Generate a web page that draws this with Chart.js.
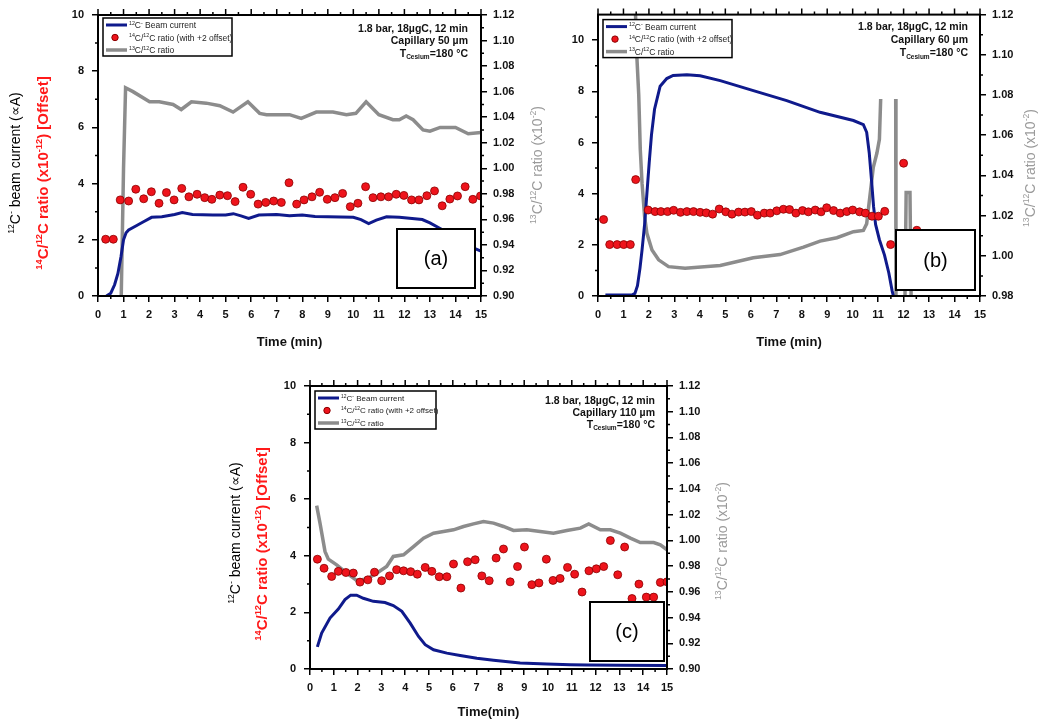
<!DOCTYPE html>
<html><head><meta charset="utf-8">
<script src="https://cdn.jsdelivr.net/npm/chart.js@4"></script>
<style>
body{margin:0;background:#fff;width:1043px;height:720px;position:relative;overflow:hidden}
.p{position:absolute}
</style></head>
<body>
<div class="p" style="left:0;top:0;width:520px;height:360px"><canvas id="ca" width="520" height="360"></canvas></div>
<div class="p" style="left:520px;top:0;width:523px;height:360px"><canvas id="cb" width="523" height="360"></canvas></div>
<div class="p" style="left:220px;top:370px;width:560px;height:350px"><canvas id="cc" width="560" height="350"></canvas></div>
<script>
// ---------- DATA ----------
const xTicks = [0,1,2,3,4,5,6,7,8,9,10,11,12,13,14,15];

// Panel (a)
const aBeamT = [0.33,0.5,0.65,0.78,0.9,1.0,1.1,1.2,1.5,1.8,2.1,2.5,3.0,3.3,3.7,4.5,5.0,5.3,5.6,5.9,6.3,7.0,7.5,8.0,8.5,9.0,10.0,10.3,10.6,10.9,11.3,11.8,12.3,12.7,13.0,13.4,13.8,14.2,14.6,15];
const aBeamV = [0,0.1,0.4,0.8,1.4,2.0,2.25,2.35,2.5,2.65,2.8,2.82,2.9,2.97,2.9,2.88,2.88,2.93,2.85,2.76,2.88,2.9,2.86,2.88,2.83,2.82,2.8,2.72,2.58,2.7,2.82,2.8,2.76,2.72,2.6,2.4,2.2,2.0,1.75,1.6];
const aGrayT = [0.91,1.0,1.08,1.37,2.02,2.4,2.94,3.26,3.66,4.24,4.77,5.29,5.87,6.33,6.6,7.5,7.96,8.55,9.2,9.73,10.1,10.5,11.0,11.55,11.8,12.07,12.34,12.73,13.0,13.4,14.0,14.5,15];
const aGrayV = [0.90,1.0,1.063,1.06,1.052,1.052,1.05,1.046,1.052,1.051,1.049,1.044,1.052,1.043,1.042,1.042,1.039,1.044,1.044,1.042,1.043,1.052,1.042,1.038,1.038,1.041,1.038,1.030,1.029,1.032,1.032,1.027,1.028];
const aDotT = [0.3,0.6,0.87,1.2,1.48,1.79,2.09,2.39,2.68,2.98,3.28,3.56,3.88,4.18,4.46,4.77,5.07,5.37,5.68,5.98,6.27,6.57,6.88,7.18,7.48,7.78,8.07,8.38,8.68,8.98,9.28,9.58,9.88,10.18,10.48,10.77,11.08,11.38,11.68,11.98,12.28,12.57,12.88,13.18,13.48,13.78,14.08,14.38,14.68,14.98];
const aDotV = [2.02,2.02,3.42,3.38,3.8,3.46,3.71,3.3,3.68,3.42,3.83,3.53,3.62,3.5,3.44,3.59,3.57,3.36,3.87,3.62,3.27,3.33,3.38,3.33,4.03,3.27,3.42,3.53,3.69,3.44,3.5,3.65,3.18,3.3,3.89,3.5,3.53,3.53,3.62,3.58,3.42,3.42,3.57,3.74,3.21,3.45,3.56,3.89,3.44,3.56];

// Panel (b)
const bBeamT = [0.29,1.33,1.45,1.55,1.65,1.73,1.83,1.92,2.01,2.1,2.22,2.44,2.7,2.95,3.49,4.01,4.8,6.1,7.41,8.72,10.03,10.42,10.55,10.65,10.75,10.82,10.9,11.05,11.25,11.42,11.55,11.6];
const bBeamV = [0.04,0.04,0.1,0.4,1.1,1.8,2.8,4.0,5.2,6.3,7.3,8.2,8.5,8.62,8.65,8.61,8.42,8.03,7.64,7.18,6.86,6.7,6.4,5.6,4.4,3.5,2.8,2.2,1.6,0.9,0.2,0];
const bGrayT = [1.46,1.53,1.6,1.66,1.73,1.83,1.92,2.12,2.38,2.77,3.42,4.8,6.1,7.15,8.07,8.72,9.38,10.03,10.42,10.55,10.68,10.81,10.95,11.05,11.1,11.11,11.69,11.7,12.05,12.1,12.25,12.3];
const bGrayV = [1.125,1.098,1.08,1.053,1.036,1.0195,1.0112,1.0029,0.998,0.9946,0.9938,0.9952,0.999,1.0006,1.0043,1.0073,1.009,1.012,1.0126,1.016,1.03,1.044,1.051,1.058,1.078,null,1.078,0.975,0.975,1.0315,1.0315,0.975];
const bDotT = [0.22,0.46,0.75,1.01,1.27,1.48,1.97,2.24,2.47,2.73,2.97,3.24,3.49,3.75,4.01,4.25,4.5,4.76,5.02,5.26,5.52,5.77,6.02,6.26,6.53,6.76,7.02,7.28,7.52,7.77,8.03,8.26,8.53,8.76,8.98,9.25,9.51,9.77,10.0,10.27,10.5,10.76,11.01,11.26,11.49,12.0,12.52];
const bDotV = [2.99,2.01,2.01,2.01,2.01,4.55,3.36,3.3,3.3,3.3,3.35,3.27,3.3,3.3,3.27,3.25,3.2,3.4,3.29,3.2,3.28,3.28,3.3,3.16,3.24,3.24,3.33,3.39,3.38,3.24,3.34,3.29,3.36,3.29,3.45,3.34,3.24,3.3,3.36,3.29,3.24,3.12,3.12,3.31,2.01,5.19,2.57];

// Panel (c)
const cBeamT = [0.31,0.49,0.84,1.19,1.47,1.71,1.96,2.24,2.66,3.15,3.5,3.86,4.21,4.56,4.84,5.19,5.75,6.31,7.01,7.71,8.83,9.95,10.94,11.64,13.04,15];
const cBeamV = [0.78,1.27,1.8,2.12,2.45,2.61,2.61,2.5,2.39,2.35,2.24,2.04,1.62,1.15,0.86,0.68,0.56,0.48,0.38,0.31,0.21,0.18,0.15,0.14,0.13,0.12];
const cGrayT = [0.28,0.42,0.63,0.77,1.12,1.54,1.96,2.38,2.8,3.22,3.5,3.93,4.35,4.77,5.19,5.61,6.03,6.45,6.87,7.29,7.71,8.13,8.55,9.11,9.67,10.23,10.79,11.36,11.71,12.2,12.62,13.04,13.46,13.88,14.44,14.72,15];
const cGrayV = [1.027,1.0134,0.9914,0.9854,0.981,0.9745,0.9688,0.9699,0.9745,0.9797,0.9875,0.9888,0.9952,1.0017,1.0056,1.0069,1.0082,1.0108,1.0128,1.0147,1.0134,1.0108,1.0077,1.0082,1.0069,1.0056,1.0077,1.0095,1.0128,1.0082,1.0082,1.0056,1.0017,0.9983,0.9983,0.9965,0.9927];
const cDotT = [0.31,0.59,0.91,1.19,1.51,1.82,2.1,2.43,2.71,3.01,3.34,3.64,3.93,4.23,4.51,4.84,5.12,5.43,5.75,6.03,6.34,6.62,6.94,7.22,7.53,7.82,8.13,8.41,8.72,9.01,9.32,9.62,9.93,10.21,10.51,10.82,11.12,11.43,11.72,12.03,12.34,12.62,12.93,13.22,13.53,13.82,14.13,14.44,14.72,15.0];
const cDotV = [3.88,3.56,3.27,3.45,3.41,3.39,3.07,3.15,3.42,3.12,3.29,3.51,3.47,3.44,3.35,3.59,3.45,3.26,3.26,3.71,2.86,3.79,3.86,3.29,3.12,3.92,4.24,3.08,3.62,4.31,2.98,3.04,3.88,3.13,3.2,3.59,3.35,2.72,3.47,3.54,3.62,4.54,3.33,4.31,2.49,3.0,2.54,2.54,3.06,3.08];

// Labels
const LBL_BEAM = '^{12}C^{-} Beam current';
const LBL_DOT = '^{14}C/^{12}C ratio (with +2 offset)';
const LBL_GRAY = '^{13}C/^{12}C ratio';
const T_BEAM = '^{12}C^{-} beam current (\u221DA)';
const T_RATIO14 = '^{14}C/^{12}C ratio (x10^{-12}) [Offset]';
const T_RATIO13 = '^{13}C/^{12}C ratio (x10^{-2})';
const NOTE_A = ['1.8 bar, 18\u00B5gC, 12 min','Capillary 50 \u00B5m','T_{Cesium}=180 \u00B0C'];
const NOTE_B = ['1.8 bar, 18\u00B5gC, 12 min','Capillary 60 \u00B5m','T_{Cesium}=180 \u00B0C'];
const NOTE_C = ['1.8 bar, 18\u00B5gC, 12 min','Capillary 110 \u00B5m','T_{Cesium}=180 \u00B0C'];

// ---------- RENDERING ----------
const FONT = '"Liberation Sans", Arial, sans-serif';
Chart.defaults.font.family = FONT;
const BLUE = '#0f1a8c', GRAY = '#8c8c8c', RED = '#ee141c', TITLE_GRAY = '#9a9a9a';

function parseRich(s){
  const out=[]; const re=/(\^\{[^}]*\}|_\{[^}]*\})/g; let last=0,m;
  while((m=re.exec(s))){
    if(m.index>last) out.push({t:s.slice(last,m.index),k:'n'});
    out.push({t:m[0].slice(2,-1),k:m[0][0]==='^'?'sup':'sub'});
    last=re.lastIndex;
  }
  if(last<s.length) out.push({t:s.slice(last),k:'n'});
  return out;
}
function drawRich(ctx,s,x,y,size,opt){
  opt=opt||{};
  const parts=parseRich(s), weight=opt.weight||'normal';
  const f=k=>`${weight} ${k==='n'?size:(size*0.62).toFixed(2)}px ${FONT}`;
  let w=0;
  for(const p of parts){ctx.font=f(p.k);p.w=ctx.measureText(p.t).width;w+=p.w;}
  let cx=opt.align==='right'?x-w:opt.align==='center'?x-w/2:x;
  ctx.fillStyle=opt.color||'#000';ctx.textAlign='left';ctx.textBaseline='alphabetic';
  const base=y+size*0.36;
  for(const p of parts){
    ctx.font=f(p.k);
    const dy=p.k==='sup'?-size*0.4:p.k==='sub'?size*0.22:0;
    ctx.fillText(p.t,cx,base+dy);cx+=p.w;
  }
}

const panelPlugin={
  id:'panel',
  afterDraw(chart,args,o){
    const ctx=chart.ctx,a=chart.chartArea,xs=chart.scales.x,yl=chart.scales.y,yr=chart.scales.y2;
    ctx.save();
    ctx.strokeStyle='#000';ctx.lineWidth=1.5;ctx.beginPath();
    for(let i=0;i<=30;i++){
      const px=xs.getPixelForValue(i/2);
      if(i%2){ctx.moveTo(px,a.bottom);ctx.lineTo(px,a.bottom+3);}
      ctx.moveTo(px,a.top);ctx.lineTo(px,a.top-(i%2?3:6));
    }
    for(let v=1;v<yl.max;v+=2){const py=yl.getPixelForValue(v);ctx.moveTo(a.left,py);ctx.lineTo(a.left-3,py);}
    const n=Math.round((yr.max-yr.min)/0.01);
    for(let i=1;i<n;i+=2){const py=yr.getPixelForValue(yr.min+i*0.01);ctx.moveTo(a.right,py);ctx.lineTo(a.right+3,py);}
    ctx.stroke();
    ctx.lineWidth=2;ctx.strokeRect(a.left,a.top,a.right-a.left,a.bottom-a.top);

    // legend
    const L=o.legend,lx=a.left+L.dx,ly=a.top+L.dy;
    ctx.fillStyle='#fff';ctx.fillRect(lx,ly,L.w,L.h);
    ctx.lineWidth=1.5;ctx.strokeStyle='#000';ctx.strokeRect(lx,ly,L.w,L.h);
    const ds=chart.data.datasets;
    const rows=[[ds[1],'line',7],[ds[0],'dot',19.5],[ds[2],'line',32]];
    for(const [d,kind,dy] of rows){
      const yy=ly+dy*L.h/38;
      if(kind==='line'){
        ctx.strokeStyle=d.borderColor;ctx.lineWidth=d.borderWidth;ctx.beginPath();
        ctx.moveTo(lx+3,yy);ctx.lineTo(lx+24,yy);ctx.stroke();
      }else{
        ctx.fillStyle=d.pointBackgroundColor;ctx.strokeStyle=d.pointBorderColor;ctx.lineWidth=1;
        ctx.beginPath();ctx.arc(lx+12,yy,3.2,0,Math.PI*2);ctx.fill();ctx.stroke();
      }
      drawRich(ctx,d.label,lx+26,yy,L.font||8.5,{color:'#222'});
    }
    // note
    o.note.forEach((s,i)=>drawRich(ctx,s,a.right+o.noteDx,a.top+o.noteDy[i],10.5,{align:'right',weight:'bold',color:'#111'}));
    // tag box
    const T=o.tag,tx=a.right-T.dr-T.w,ty=a.bottom-T.db-T.h;
    ctx.fillStyle='#fff';ctx.fillRect(tx,ty,T.w,T.h);
    ctx.lineWidth=2;ctx.strokeStyle='#000';ctx.strokeRect(tx,ty,T.w,T.h);
    ctx.fillStyle='#000';ctx.font=`20px ${FONT}`;ctx.textAlign='center';ctx.textBaseline='middle';
    ctx.fillText(T.text,tx+T.w/2,ty+T.h/2+1);
    // x title
    drawRich(ctx,o.xTitle,(a.left+a.right)/2,a.bottom+o.xTitleDy,13,{align:'center',weight:'bold',color:'#111'});
    // axis titles
    for(const t of o.titles){
      ctx.save();ctx.translate(t.x,t.y);ctx.rotate(-Math.PI/2);
      drawRich(ctx,t.text,0,0,t.size,{align:'center',color:t.color,weight:t.weight});
      ctx.restore();
    }
    ctx.restore();
  }
};
Chart.register(panelPlugin);

const zip=(t,v)=>t.map((x,i)=>({x:x,y:v[i]}));

function makePanel(id,c){
  const tickFont={size:11,weight:'bold'};
  return new Chart(document.getElementById(id),{
    type:'line',
    data:{datasets:[
      {label:LBL_DOT,data:zip(c.dotT,c.dotV),showLine:false,pointRadius:4,pointBackgroundColor:RED,pointBorderColor:'#8a0000',pointBorderWidth:0.8,yAxisID:'y'},
      {label:LBL_BEAM,data:zip(c.beamT,c.beamV),borderColor:BLUE,borderWidth:3,pointRadius:0,tension:0,yAxisID:'y'},
      {label:LBL_GRAY,data:zip(c.grayT,c.grayV),borderColor:GRAY,borderWidth:3.5,pointRadius:0,tension:0,spanGaps:false,yAxisID:'y2'}
    ]},
    options:{
      responsive:false,animation:false,devicePixelRatio:1,events:[],
      layout:{padding:{top:c.padTop,left:0,right:0,bottom:0}},
      plugins:{legend:{display:false},tooltip:{enabled:false},panel:c.panel},
      scales:{
        x:{type:'linear',position:'bottom',min:0,max:15,
          afterBuildTicks:s=>{s.ticks=xTicks.map(v=>({value:v}));},
          ticks:{autoSkip:false,maxRotation:0,font:tickFont,color:'#111',padding:6,callback:v=>String(v)},
          grid:{drawOnChartArea:false,drawTicks:true,tickLength:6,color:'#000',lineWidth:1.5},
          border:{display:true,color:'#000',width:2},
          afterFit:s=>{s.height=c.xH;}},
        y:{type:'linear',position:'left',min:0,max:c.yMax,
          ticks:{stepSize:2,includeBounds:false,font:tickFont,color:'#111',padding:8},
          grid:{drawOnChartArea:false,drawTicks:true,tickLength:6,color:'#000',lineWidth:1.5},
          border:{display:true,color:'#000',width:2},
          afterFit:s=>{s.width=c.yW;}},
        y2:{type:'linear',position:'right',min:c.rMin,max:1.12,
          ticks:{stepSize:0.02,includeBounds:false,font:tickFont,color:'#111',padding:6,callback:v=>Number(v).toFixed(2)},
          grid:{drawOnChartArea:false,drawTicks:true,tickLength:6,color:'#000',lineWidth:1.5},
          border:{display:true,color:'#000',width:2},
          afterFit:s=>{s.width=c.y2W;}}
      }
    }
  });
}

makePanel('ca',{
  dotT:aDotT,dotV:aDotV,beamT:aBeamT,beamV:aBeamV,grayT:aGrayT,grayV:aGrayV,
  padTop:15,yW:98,y2W:39,xH:64,yMax:10,rMin:0.90,
  panel:{legend:{dx:5,dy:3,w:129,h:38},note:NOTE_A,noteDx:-13,noteDy:[13,25.5,38],
    tag:{text:'(a)',dr:6,db:8,w:78,h:59},xTitle:'Time (min)',xTitleDy:45,
    titles:[{text:T_BEAM,x:15,y:163,size:14,color:'#000',weight:'normal'},
            {text:T_RATIO14,x:42.5,y:173,size:15,color:'#ff1a1a',weight:'bold'}]}
});
makePanel('cb',{
  dotT:bDotT,dotV:bDotV,beamT:bBeamT,beamV:bBeamV,grayT:bGrayT,grayV:bGrayV,
  padTop:13,yW:78,y2W:63,xH:64,yMax:11,rMin:0.98,
  panel:{legend:{dx:5,dy:5,w:129,h:38},note:NOTE_B,noteDx:-12,noteDy:[12,25,38],
    tag:{text:'(b)',dr:5,db:6,w:79,h:60},xTitle:'Time (min)',xTitleDy:45.5,
    titles:[{text:T_RATIO13,x:17,y:165,size:14,color:TITLE_GRAY,weight:'normal'},
            {text:T_RATIO13,x:510,y:168,size:14,color:TITLE_GRAY,weight:'normal'}]}
});
makePanel('cc',{
  dotT:cDotT,dotV:cDotV,beamT:cBeamT,beamV:cBeamV,grayT:cGrayT,grayV:cGrayV,
  padTop:16,yW:90,y2W:113,xH:51,yMax:10,rMin:0.90,
  panel:{legend:{dx:5,dy:5,w:121,h:38,font:8},note:NOTE_C,noteDx:-12,noteDy:[14,26,38],
    tag:{text:'(c)',dr:3,db:8,w:74,h:59},xTitle:'Time(min)',xTitleDy:42,
    titles:[{text:T_BEAM,x:15,y:163,size:14,color:'#000',weight:'normal'},
            {text:T_RATIO14,x:42,y:174,size:15,color:'#ff1a1a',weight:'bold'},
            {text:T_RATIO13,x:502,y:171,size:14,color:TITLE_GRAY,weight:'normal'}]}
});
</script>
</body></html>
